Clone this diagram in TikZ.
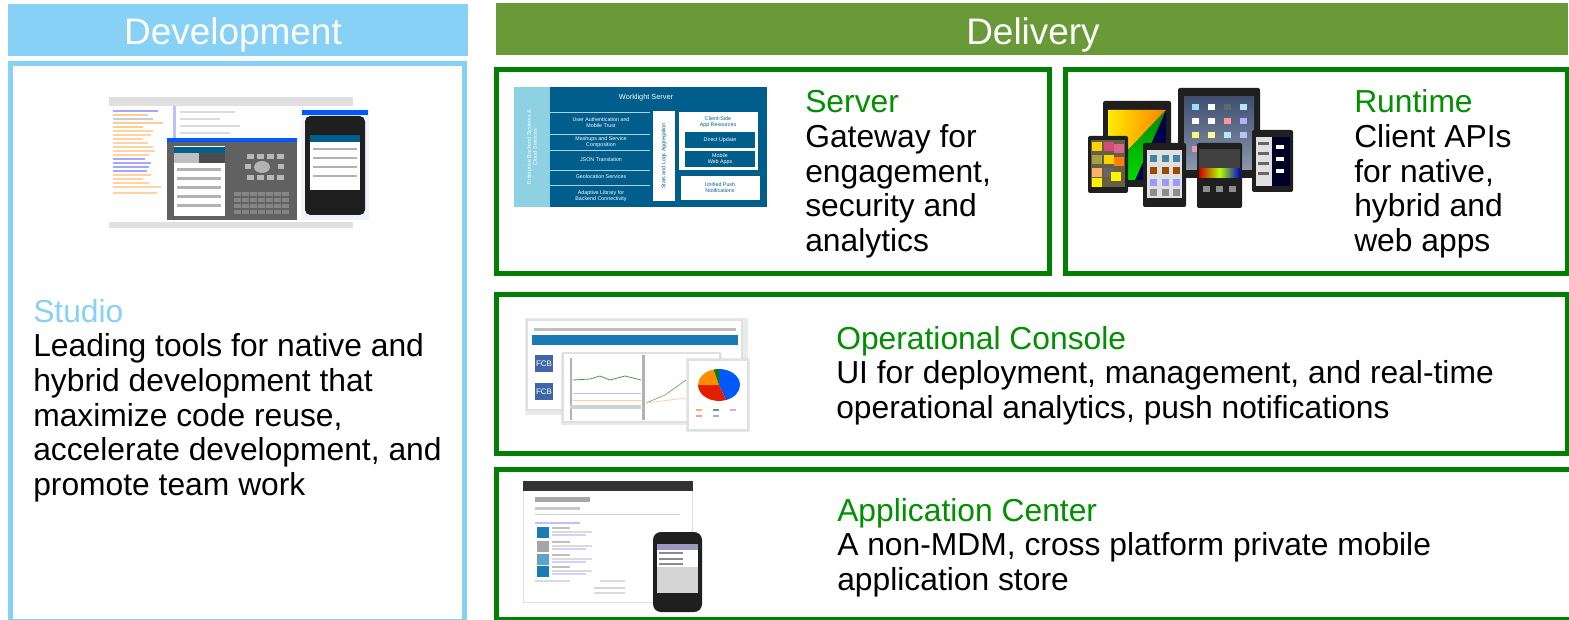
\documentclass[tikz,border=0pt]{standalone}
\usepackage{fontspec}
\setmainfont{Liberation Sans}
\definecolor{skyb}{HTML}{87D0F6}
\definecolor{leaf}{HTML}{6A9A38}
\definecolor{grn}{HTML}{008000}
\definecolor{headg}{HTML}{009000}
\definecolor{wlblue}{HTML}{005E8C}
\definecolor{wllight}{HTML}{8ED1E3}
\definecolor{fcb}{HTML}{3F67A8}
\definecolor{consoleband}{HTML}{1A7CB4}
\definecolor{ipadtop}{HTML}{3E4F70}
\definecolor{ipadlow}{HTML}{8C98AC}
\tikzset{
  x=0.75pt,y=-0.75pt,
  headbar/.style={inner sep=0,text=white,font=\fontsize{27.7}{30}\selectfont},
  frame/.style={draw=grn,line width=3.75pt,fill=white},
  body/.style={inner sep=0,anchor=north west,align=left,font=\fontsize{23.85}{26}\selectfont},
  mini/.style={inner sep=0,text=white,align=center,font=\fontsize{4}{4.6}\selectfont},
  minid/.style={mini,text=wlblue},
  device/.style={fill=black!88,rounded corners=1.5pt},
  card/.style={fill=white,draw=black!12,line width=1.2pt},
  soft/.style={fill=black!20,opacity=.4},
}
\begin{document}
\begin{tikzpicture}
\useasboundingbox (0,0) rectangle (1569,620);
\clip (0,0) rectangle (1569,620);
\fill[white] (0,0) rectangle (1569,620);
% headers
\fill[skyb] (8,4) rectangle (468,56);
\node[headbar] (devtitle) at (233,35) {Development};
\fill[leaf] (496,3) rectangle (1568,55);
\node[headbar] (deltitle) at (1033,35) {Delivery};
% frames
\draw[draw=skyb,line width=3.75pt,fill=white] (10,64) rectangle (464.5,621.5);
\draw[frame] (496.5,69.5) rectangle (1049,273);
\draw[frame] (1065.5,69.5) rectangle (1567,273);
\draw[frame] (496.5,294.5) rectangle (1567,453);
\draw[frame] (496.5,469.5) rectangle (1572,619.5);
% texts
\node[body] (studio) at (33,299) {\textcolor{skyb}{Studio}\\Leading tools for native and\\hybrid development that\\maximize code reuse,\\accelerate development, and\\promote team work};
\node[body] (server) at (805,90.5) {\textcolor{headg}{Server}\\Gateway for\\engagement,\\security and\\analytics};
\node[body] (runtime) at (1354,89.5) {\textcolor{headg}{Runtime}\\Client APIs\\for native,\\hybrid and\\web apps};
\node[body] (console) at (836,326) {\textcolor{headg}{Operational Console}\\UI for deployment, management, and real-time\\operational analytics, push notifications};
\node[body] (appcenter) at (837,498) {\textcolor{headg}{Application Center}\\A non-MDM, cross platform private mobile\\application store};
% --- studio screenshot
\fill[black!4] (109,97) rectangle (353,228);
\fill[black!12] (109,97) rectangle (353,106);
\fill[white] (109,106) rectangle (173,222);
\fill[white] (175,106) rectangle (353,222);
\fill[blue!25!white] (173,106) rectangle (176,138);
\foreach \yy/\ww/\cc in {110/45/blue!35,114/35/orange!40,118/40/black!20,122/50/orange!40,126/30/orange!40,130/40/orange!35,134/38/orange!35,138/30/orange!35,142/35/orange!35,146/40/orange!35,150/42/orange!35,154/36/orange!35,158/32/blue!35,162/38/blue!35,166/36/blue!35,170/34/blue!35,174/38/orange!35,178/30/orange!35,182/36/orange!35,186/48/orange!35,192/44/orange!35}
  \fill[\cc] (113,\yy) rectangle ++(\ww,1.8);
\foreach \yy/\ww in {111/55,118/40,125/60,132/50,139/45,146/30}
  \fill[black!14] (180,\yy) rectangle ++(\ww,1.8);
\fill[black!12] (109,222) rectangle (353,228);
% emulator
\fill[black!62] (167,138) rectangle (297,220);
\fill[blue!65!cyan] (167,138) rectangle (297,142);
\fill[white] (174,146) rectangle (225,216);
\fill[wlblue] (174,147) rectangle (225,153);
\fill[black!70] (199,153) rectangle (225,163);
\fill[black!25] (174,153) rectangle (199,163);
\foreach \yy in {168,177,186,195,204}
  \fill[black!30] (177,\yy) rectangle ++(44,3);
\foreach \xa in {247,257,267,277} {
  \fill[black!28] (\xa,154) rectangle ++(7,5);
  \fill[black!28] (\xa,175) rectangle ++(7,5);
}
\fill[black!28] (245,164) rectangle ++(6,5);
\fill[black!28] (278,164) rectangle ++(6,5);
\fill[black!30] (262,167) ellipse (8 and 6);
\foreach \xa in {234,242,250,258,266,274,282}
  \foreach \yb in {192,198,204,210}
    \fill[black!48] (\xa,\yb) rectangle ++(6.5,4.5);
% phone
\fill[blue!5] (301,110) rectangle (369,220);
\fill[blue!65!cyan] (302,110) rectangle (368,115);
\fill[device,rounded corners=4pt] (305,116) rectangle (365,215);
\fill[white] (310,140) rectangle (360,190);
\fill[wlblue] (310,135) rectangle (360,142);
\foreach \yy in {148,157,166,175}
  \fill[black!30] (313,\yy) rectangle ++(44,2.5);
% --- server diagram
\fill[wlblue] (514,87) rectangle (767,207);
\fill[wllight] (514,87) rectangle (550,207);
\node[mini,rotate=90,text width=60pt] (wlback) at (532,147) {Enterprise Backend Systems \&\\Cloud Services};
\node[mini,font=\fontsize{5.5}{6}\selectfont] (wltitle) at (646,98) {Worklight Server};
\foreach \yy in {112,134,150,170,185}
  \draw[white!70!wlblue,line width=.5pt] (550,\yy) -- (650,\yy);
\node[mini] (wl1) at (601,123) {User Authentication and\\Mobile Trust};
\node[mini] (wl2) at (601,142) {Mashups and Service\\Composition};
\node[mini] (wl3) at (601,160) {JSON Translation};
\node[mini] (wl4) at (601,177) {Geolocation Services};
\node[mini] (wl5) at (601,196) {Adaptive Library for\\Backend Connectivity};
\fill[white] (653,111) rectangle (675,201);
\node[minid,rotate=90] (wlstats) at (664,156) {Stats and Logs Aggregation};
\fill[white] (679,112) rectangle (758,170);
\node[minid] (wlclient) at (718,122) {Client-Side\\App Resources};
\fill[wlblue] (685,132) rectangle (755,148);
\node[mini] (wldirect) at (720,140) {Direct Update};
\fill[wlblue] (685,151) rectangle (755,167);
\node[mini] (wlmobile) at (720,159) {Mobile\\Web Apps};
\fill[white] (681,176) rectangle (760,200);
\node[minid] (wlpush) at (720,188) {Unified Push\\Notifications};
% --- devices
\fill[device] (1103,101) rectangle (1171,187);
\fill[black!70!blue] (1108,110) rectangle (1166,180);
\shade[left color=yellow!85!orange,right color=orange] (1108,110) -- (1166,110) -- (1128,150) -- (1108,155) -- cycle;
\shade[top color=green!55!black,bottom color=green!85!black] (1108,180) -- (1108,155) -- (1128,150) -- (1166,110) -- (1135,180) -- cycle;
\fill[device] (1178,88) rectangle (1260,178);
\shade[top color=ipadtop,bottom color=ipadlow] (1184,97) rectangle (1254,170);
\foreach \xa/\yb/\cc in {1192/104/cyan!40,1208/104/white!60,1224/104/black!60,1240/104/cyan!30,1192/118/white!60,1208/118/white!70,1224/118/red!40,1240/118/blue!30,1192/132/yellow!50,1208/132/yellow!40,1224/132/cyan!30,1240/132/blue!25,1192/146/purple!40,1208/146/purple!25,1224/146/white!50}
  \fill[\cc] (\xa,\yb) rectangle ++(6.5,6.5);
\fill[device] (1088,136) rectangle (1128,193);
\fill[black!70!yellow] (1091,140) rectangle (1125,187);
\foreach \xa/\yb/\cc in {1092/142/yellow!70!orange,1104/142/purple!70,1114/144/purple!60,1092/155/yellow!60!black,1104/155/yellow!70!orange,1114/157/orange,1092/168/orange!60,1104/168/black!60,1092/178/yellow,1111/172/yellow}
  \fill[\cc] (\xa,\yb) rectangle ++(10,9);
\fill[device] (1143,143) rectangle (1186,207);
\fill[black!12] (1147,150) rectangle (1182,198);
\foreach \xa in {1150,1162,1173}
  \foreach \yb/\cc in {155/cyan!60!black,167/orange!60!black,179/blue!40,189/black!45}
    \fill[\cc] (\xa,\yb) rectangle ++(7,7);
\fill[device] (1197,143) rectangle (1242,208);
\shade[left color=red!80!black,right color=blue!80!black,middle color=yellow!70!green] (1199,168) rectangle (1240,178);
\fill[black!75] (1199,149) rectangle (1240,168);
\foreach \xa in {1203,1216,1229}
  \fill[black!45] (\xa,186) rectangle ++(7,6);
\fill[device] (1252,130) rectangle (1293,192);
\fill[black!12] (1256,137) rectangle (1272,186);
\fill[blue!15!black] (1272,137) rectangle (1290,186);
\foreach \yb in {142,152,162,172}
  \fill[black!60] (1258,\yb) rectangle ++(11,3);
\foreach \yb in {145,157,169}
  \fill[white!80] (1276,\yb) rectangle ++(8,4);
% --- console
\fill[soft] (525,318) rectangle (748,415);
\fill[card] (527,320) rectangle (742,410);
\fill[black!25] (534,328) rectangle (736,331);
\fill[consoleband] (532,335) rectangle (738,345);
\fill[fcb] (535,355) rectangle (553,372);
\fill[fcb] (535,383) rectangle (553,400);
\node[mini,font=\fontsize{6}{7}\selectfont] (fcba) at (544,364) {FCB};
\node[mini,font=\fontsize{6}{7}\selectfont] (fcbb) at (544,392) {FCB};
\fill[soft] (561,353) rectangle (722,425);
\fill[card] (563,353) rectangle (720,422);
\fill[black!30] (570,358) rectangle (572,420);
\fill[black!30] (642,355) rectangle (645,420);
\draw[green!40!black!70,line width=.6pt] (573,380) -- (590,379) -- (600,376) -- (610,380) -- (625,376) -- (641,380);
\draw[blue!25,line width=.6pt] (573,393) -- (641,393);
\draw[orange!40,line width=.6pt] (573,400) -- (641,400);
\draw[green!40!black!50,line width=.6pt] (646,403) -- (665,395) -- (686,380);
\draw[orange!35,line width=.6pt] (646,403) -- (686,398);
\fill[black!18] (570,405) rectangle (641,409);
\fill[soft] (686,358) rectangle (750,432);
\fill[card] (688,360) rectangle (748,430);
\fill[blue!65!cyan] (719,385) -- (719,369) arc[start angle=-90,end angle=70,x radius=21,y radius=16] -- cycle;
\fill[red!75!orange!90!black] (719,385) -- (726.2,400) arc[start angle=70,end angle=180,x radius=21,y radius=16] -- cycle;
\fill[orange!90!yellow] (719,385) -- (698,385) arc[start angle=180,end angle=255,x radius=21,y radius=16] -- cycle;
\fill[green!50!black] (719,385) -- (713.6,369.5) arc[start angle=255,end angle=270,x radius=21,y radius=16] -- cycle;
\foreach \xa/\yb/\cc in {696/409/orange!60,696/415/red!40,713/409/green!35!black!60,713/415/blue!35,730/409/purple!35}
  \fill[\cc] (\xa,\yb) rectangle ++(6,2);
% --- app center
\fill[black!12] (523,481) rectangle (693,603);
\fill[white] (524,482) rectangle (692,602);
\fill[black!80] (523,481) rectangle (693,491);
\fill[black!35] (535,497) rectangle (590,502);
\fill[black!22] (535,507) rectangle (580,510);
\draw[black!18] (535,514) -- (680,514);
\fill[blue!25] (535,522) rectangle (580,524);
\foreach \yb/\cc in {527/consoleband,541/black!35,554/consoleband!70,566/consoleband} {
  \fill[\cc] (537,\yb) rectangle ++(12,11);
  \fill[black!25] (552,\yb) rectangle ++(18,1.8);
  \fill[black!14] (552,\yb+4) rectangle ++(40,1.5);
  \fill[blue!18] (552,\yb+7) rectangle ++(34,1.5);
}
\fill[black!14] (535,580) rectangle (570,581.5);
\fill[black!14] (600,580) rectangle (625,581.5);
\fill[black!16] (594,587) rectangle (625,589);
\fill[black!14] (594,592) rectangle (625,594);
\fill[device,rounded corners=6pt] (653,532) rectangle (702,612);
\fill[black!17] (657,544) rectangle (698,593);
\fill[blue!40!black!40] (657,544) rectangle (698,550);
\fill[white] (657,550) rectangle (698,567);
\foreach \yb in {552,558,563}
  \fill[black!45] (659,\yb) rectangle ++(24,2);
\end{tikzpicture}
\end{document}
